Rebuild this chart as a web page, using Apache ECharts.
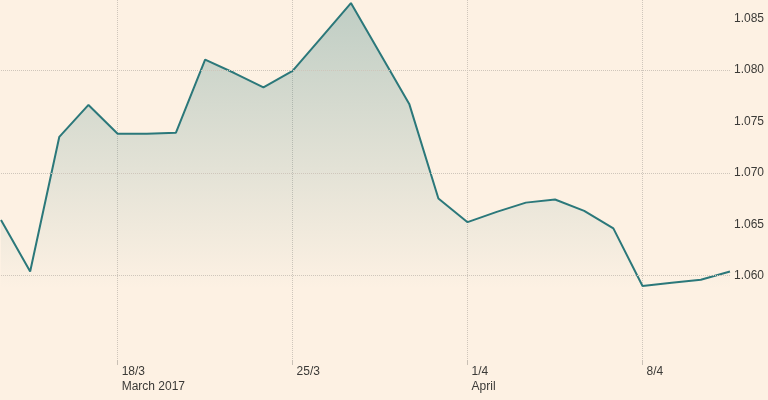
<!DOCTYPE html>
<html>
<head>
<meta charset="utf-8">
<script src="https://cdn.jsdelivr.net/npm/echarts@6/dist/echarts.min.js"></script>
<style>
  html, body { margin: 0; padding: 0; background: #fdf1e3; }
  #chart { width: 768px; height: 400px; }
</style>
</head>
<body>
<div id="chart"></div>
<script>
// X categories (only the labelled ones carry text)
const categories = ['', '', '', '', '18/3', '', '', '', '', '', '25/3', '', '', '', '', '', '1/4', '', '', '', '', '', '8/4', '', '', ''];
const subLabels  = ['', '', '', '', 'March 2017', '', '', '', '', '', '', '', '', '', '', '', 'April', '', '', '', '', '', '', '', '', ''];
// Series values
const values = [1.0654, 1.0604, 1.0735, 1.0766, 1.0738, 1.0738, 1.0739, 1.0810, 1.0797, 1.0783, 1.0799, 1.0832, 1.0865,
                1.0816, 1.0767, 1.0675, 1.0652, 1.0662, 1.0671, 1.0674, 1.0663, 1.0646, 1.0590, 1.0593, 1.0596, 1.0604];
// Y tick labels
const yTicks = [1.060, 1.065, 1.070, 1.075, 1.080, 1.085];

const labelIdx = categories.map((c, i) => c ? i : -1).filter(i => i >= 0);
const showIdx = (i) => labelIdx.indexOf(i) >= 0;

const chart = echarts.init(document.getElementById('chart'));
chart.setOption({
  backgroundColor: '#fdf1e3',
  animation: false,
  textStyle: { fontFamily: 'Liberation Sans, Arial, sans-serif' },
  grid: { left: 1, right: 38, top: 0, bottom: 40 },
  xAxis: {
    type: 'category',
    data: categories,
    boundaryGap: false,
    axisLine: { show: false },
    axisTick: { show: true, interval: showIdx, length: 5, lineStyle: { color: '#c9c0b5' } },
    splitLine: { show: true, interval: showIdx, lineStyle: { color: '#cfc6bb', type: 'dotted', width: 1 } },
    axisLabel: {
      interval: showIdx,
      margin: 4,
      align: 'left',
      padding: [0, 0, 0, 4],
      color: '#3b3a37',
      fontSize: 12,
      lineHeight: 15,
      formatter: (v, i) => subLabels[i] ? v + '\n' + subLabels[i] : v
    }
  },
  yAxis: {
    type: 'value',
    position: 'right',
    min: 1.0518,
    max: 1.0868,
    axisLine: { show: false },
    axisTick: { show: false },
    splitLine: { show: false },
    axisLabel: {
      customValues: yTicks,
      margin: 4,
      color: '#3b3a37',
      fontSize: 12,
      formatter: v => v.toFixed(3)
    }
  },
  series: [{
    type: 'line',
    data: values,
    symbol: 'none',
    lineStyle: { color: '#2b787a', width: 2 },
    areaStyle: {
      color: new echarts.graphic.LinearGradient(0, 0, 0, 1, [
        { offset: 0, color: 'rgba(43,120,122,0.42)' },
        { offset: 0.8, color: 'rgba(43,120,122,0)' },
        { offset: 1, color: 'rgba(43,120,122,0)' }
      ])
    },
    markLine: {
      silent: true,
      symbol: 'none',
      label: { show: false },
      emphasis: { disabled: true },
      lineStyle: { color: '#cfc6bb', type: 'dotted', width: 1 },
      data: yTicks.map(v => ({ yAxis: v }))
    }
  }]
});
</script>
</body>
</html>
